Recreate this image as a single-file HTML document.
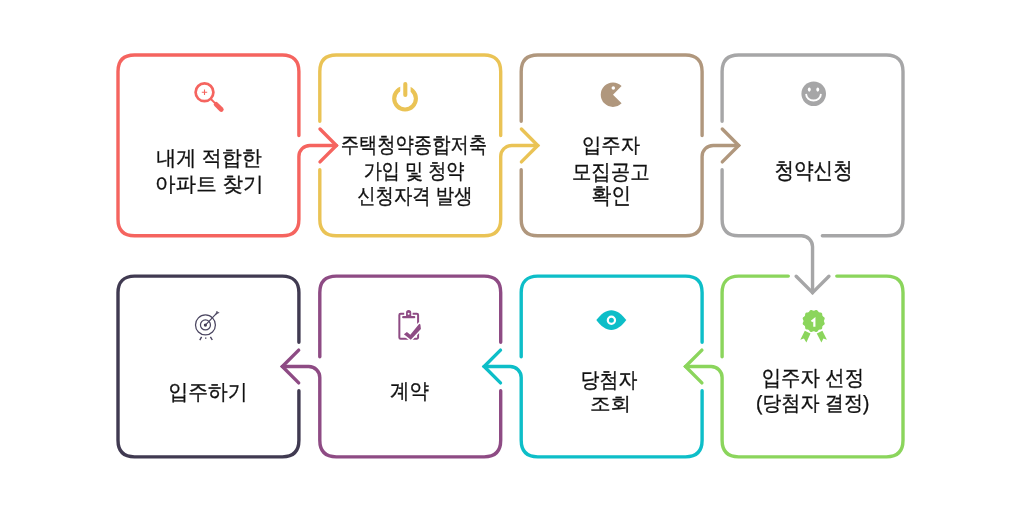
<!DOCTYPE html>
<html><head><meta charset="utf-8"><style>
html,body{margin:0;padding:0;background:#fff;width:1024px;height:512px;overflow:hidden}
svg{position:absolute;left:0;top:0;will-change:transform}
text{font-family:"Liberation Sans",sans-serif;font-size:22px;fill:#111;stroke:#111;stroke-width:0.35px;text-rendering:geometricPrecision}
</style></head><body>
<svg width="1024" height="512" viewBox="0 0 1024 512">
<g fill="none" stroke-width="3.4" stroke-linecap="round" stroke-linejoin="round">
<path d="M298.9,135.62 V71.55 C298.9,60.82 293.12,55.05 282.4,55.05 H134.5 C123.78,55.05 118,60.82 118,71.55 V219.3 C118,230.03 123.78,235.8 134.5,235.8 H282.4 C293.12,235.8 298.9,230.03 298.9,219.3 V156.43 C298.9,150.35 303.82,145.43 309.9,145.43 H336.4" stroke="#F5645F"/>
<path d="M320,129.03 L336.4,145.43 L320,161.83" stroke="#F5645F" stroke-linejoin="miter"/>
<path d="M500.7,135.62 V71.55 C500.7,60.82 494.93,55.05 484.2,55.05 H336.3 C325.57,55.05 319.8,60.82 319.8,71.55 V121.18 M319.8,169.68 V219.3 C319.8,230.03 325.57,235.8 336.3,235.8 H484.2 C494.93,235.8 500.7,230.03 500.7,219.3 V156.43 C500.7,150.35 505.62,145.43 511.7,145.43 H537.8" stroke="#EAC355"/>
<path d="M521.4,129.03 L537.8,145.43 L521.4,161.83" stroke="#EAC355" stroke-linejoin="miter"/>
<path d="M702.1,135.62 V71.55 C702.1,60.82 696.33,55.05 685.6,55.05 H537.7 C526.98,55.05 521.2,60.82 521.2,71.55 V121.18 M521.2,169.68 V219.3 C521.2,230.03 526.98,235.8 537.7,235.8 H685.6 C696.33,235.8 702.1,230.03 702.1,219.3 V156.43 C702.1,150.35 707.02,145.43 713.1,145.43 H738.7" stroke="#B0977D"/>
<path d="M722.3,129.03 L738.7,145.43 L722.3,161.83" stroke="#B0977D" stroke-linejoin="miter"/>
<path d="M822.35,235.8 H886.5 C897.23,235.8 903,230.03 903,219.3 V71.55 C903,60.82 897.23,55.05 886.5,55.05 H738.6 C727.88,55.05 722.1,60.82 722.1,71.55 V121.18 M722.1,169.68 V219.3 C722.1,230.03 727.88,235.8 738.6,235.8 H801.55 C807.63,235.8 812.55,240.72 812.55,246.8 V292.7" stroke="#A6A6A7"/>
<path d="M796.15,276.3 L812.55,292.7 L828.95,276.3" stroke="#A6A6A7" stroke-linejoin="miter"/>
<path d="M722.1,356.68 V292.6 C722.1,281.88 727.88,276.1 738.6,276.1 H788.3 M836.8,276.1 H886.5 C897.23,276.1 903,281.88 903,292.6 V440.35 C903,451.08 897.23,456.85 886.5,456.85 H738.6 C727.88,456.85 722.1,451.08 722.1,440.35 V377.48 C722.1,371.4 717.18,366.48 711.1,366.48 H685.5" stroke="#8BD55C"/>
<path d="M701.9,350.08 L685.5,366.48 L701.9,382.88" stroke="#8BD55C" stroke-linejoin="miter"/>
<path d="M521.2,356.68 V292.6 C521.2,281.88 526.98,276.1 537.7,276.1 H685.6 C696.33,276.1 702.1,281.88 702.1,292.6 V342.23 M702.1,390.73 V440.35 C702.1,451.08 696.33,456.85 685.6,456.85 H537.7 C526.98,456.85 521.2,451.08 521.2,440.35 V377.48 C521.2,371.4 516.28,366.48 510.2,366.48 H484.1" stroke="#0DBEC8"/>
<path d="M500.5,350.08 L484.1,366.48 L500.5,382.88" stroke="#0DBEC8" stroke-linejoin="miter"/>
<path d="M319.8,356.68 V292.6 C319.8,281.88 325.57,276.1 336.3,276.1 H484.2 C494.93,276.1 500.7,281.88 500.7,292.6 V342.23 M500.7,390.73 V440.35 C500.7,451.08 494.93,456.85 484.2,456.85 H336.3 C325.57,456.85 319.8,451.08 319.8,440.35 V377.48 C319.8,371.4 314.88,366.48 308.8,366.48 H282.3" stroke="#8E4B84"/>
<path d="M298.7,350.08 L282.3,366.48 L298.7,382.88" stroke="#8E4B84" stroke-linejoin="miter"/>
<path d="M298.9,390.73 V440.35 C298.9,451.08 293.12,456.85 282.4,456.85 H134.5 C123.78,456.85 118,451.08 118,440.35 V292.6 C118,281.88 123.78,276.1 134.5,276.1 H282.4 C293.12,276.1 298.9,281.88 298.9,292.6 V342.23" stroke="#403A51"/>
</g>

<g fill="none" stroke="#F5645F">
 <circle cx="204.5" cy="92.3" r="8.9" stroke-width="2.7"/>
 <path d="M201.8 92.3H207.2M204.5 89.6V95" stroke-width="1.1"/>
 <path d="M210.6 98.7L215 103.1" stroke-width="2"/>
 <path d="M216.1 104.3L221.3 109.5" stroke-width="4.7" stroke-linecap="round"/>
</g>
<g fill="none" stroke="#EAC355" stroke-width="4.1">
 <circle cx="405.05" cy="98.6" r="10.85"/>
 <rect x="400.25" y="83" width="10.35" height="10" fill="#fff" stroke="none"/>
 <path d="M405.3 84V95" stroke-linecap="round"/>
</g>
<g>
 <path d="M613 94.7 L621.6 86.1 A12.2 12.2 0 1 0 621.6 103.3 Z" fill="#B0977D"/>
 <circle cx="613.3" cy="88" r="1.75" fill="#fff"/>
</g>
<g>
 <circle cx="813.7" cy="93.8" r="12.3" fill="#A6A6A7"/>
 <ellipse cx="809.3" cy="89.6" rx="1.45" ry="2.05" fill="#fff"/>
 <ellipse cx="817.75" cy="89.6" rx="1.45" ry="2.05" fill="#fff"/>
 <path d="M806.2 94.6 A7.3 5.9 0 0 0 820.8 94.6" fill="none" stroke="#fff" stroke-width="1.9" stroke-linecap="round"/>
</g>
<g fill="none" stroke="#4A4560" stroke-width="1.25">
 <circle cx="205.45" cy="324.9" r="9.95"/>
 <circle cx="205.45" cy="324.9" r="5"/>
 <circle cx="205.4" cy="325.1" r="1.6" fill="#403A51" stroke="none"/>
 <path d="M205.4 325.1 L216.3 313.6" stroke-width="1.2"/>
 <path d="M215.7 314.5 L216.9 311.1 L217.7 312.4 L219.2 312.6 Z" fill="#403A51" stroke-width="0.5" stroke-linejoin="round"/>
 <path d="M201.6 336.8 L199.8 340.1M210.4 336.9 L212.3 340M205.7 337.4V338.8" stroke-width="1.4"/>
</g>
<g>
 <path d="M404.2 313.85 H400.6 Q399.35 313.85 399.35 315.1 V337.45 Q399.35 338.7 400.6 338.7 H417 Q418.1 338.7 418.1 337.6 V315.1 Q418.1 313.85 416.85 313.85 H412.6" fill="none" stroke="#8E4B84" stroke-width="2"/>
 <path d="M403.2 316.1 H406.05 V312.7 A2.6 2.6 0 0 1 411.25 312.7 V316.1 H414.2 A1.1 1.1 0 0 1 414.2 318.3 H403.2 A1.1 1.1 0 0 1 403.2 316.1 Z" fill="#8E4B84"/>
 <circle cx="408.6" cy="313.7" r="1" fill="#fff"/>
 <path d="M403.9 334.3 L406.9 331.9 L410.3 334.7 L419.3 323.8 L420.4 324.4 L420.9 329 L410.8 339.7 Z" fill="#fff" stroke="#fff" stroke-width="3" stroke-linejoin="round"/>
 <path d="M403.9 334.3 L406.9 331.9 L410.3 334.7 L419.3 323.8 L420.4 324.4 L420.9 329 L410.8 339.7 Z" fill="#8E4B84"/>
</g>
<g>
 <path d="M596.3 320.1 C601 313.8 606 310.2 611.3 310.2 C616.6 310.2 621.6 313.8 626.3 320.1 C621.6 326.4 616.6 330 611.3 330 C606 330 601 326.4 596.3 320.1Z" fill="#0DBEC8"/>
 <circle cx="611.4" cy="320.3" r="3.6" fill="none" stroke="#fff" stroke-width="2.2"/>
</g>
<g fill="#8BD55C">
 <path d="M804.8 330.7 L810.5 333.6 L806.4 342.6 L803.9 338.6 L800.3 339.7 Z" stroke="#fff" stroke-width="0"/>
 <path d="M822.4 330.7 L816.75 333.6 L821.4 342.6 L823.4 338.6 L826.9 339.7 Z"/>
 <path d="M823.9,321 L823.92,321.27 L823.99,321.54 L824.09,321.82 L824.22,322.11 L824.36,322.4 L824.49,322.71 L824.59,323.02 L824.65,323.33 L824.66,323.63 L824.61,323.92 L824.51,324.2 L824.35,324.46 L824.14,324.7 L823.89,324.91 L823.63,325.11 L823.37,325.3 L823.11,325.49 L822.88,325.68 L822.69,325.88 L822.53,326.1 L822.42,326.34 L822.34,326.61 L822.29,326.91 L822.26,327.22 L822.23,327.54 L822.19,327.87 L822.12,328.19 L822.02,328.49 L821.88,328.76 L821.69,328.99 L821.46,329.18 L821.19,329.32 L820.89,329.42 L820.57,329.49 L820.24,329.53 L819.92,329.56 L819.61,329.59 L819.31,329.64 L819.04,329.72 L818.8,329.83 L818.58,329.99 L818.38,330.18 L818.19,330.41 L818,330.67 L817.81,330.93 L817.61,331.19 L817.4,331.44 L817.16,331.65 L816.9,331.81 L816.62,331.91 L816.33,331.96 L816.03,331.95 L815.72,331.89 L815.41,331.79 L815.1,331.66 L814.81,331.52 L814.52,331.39 L814.24,331.29 L813.97,331.22 L813.7,331.2 L813.43,331.22 L813.16,331.29 L812.88,331.39 L812.59,331.52 L812.3,331.66 L811.99,331.79 L811.68,331.89 L811.37,331.95 L811.07,331.96 L810.78,331.91 L810.5,331.81 L810.24,331.65 L810,331.44 L809.79,331.19 L809.59,330.93 L809.4,330.67 L809.21,330.41 L809.02,330.18 L808.82,329.99 L808.6,329.83 L808.36,329.72 L808.09,329.64 L807.79,329.59 L807.48,329.56 L807.16,329.53 L806.83,329.49 L806.51,329.42 L806.21,329.32 L805.94,329.18 L805.71,328.99 L805.52,328.76 L805.38,328.49 L805.28,328.19 L805.21,327.87 L805.17,327.54 L805.14,327.22 L805.11,326.91 L805.06,326.61 L804.98,326.34 L804.87,326.1 L804.71,325.88 L804.52,325.68 L804.29,325.49 L804.03,325.3 L803.77,325.11 L803.51,324.91 L803.26,324.7 L803.05,324.46 L802.89,324.2 L802.79,323.92 L802.74,323.63 L802.75,323.33 L802.81,323.02 L802.91,322.71 L803.04,322.4 L803.18,322.11 L803.31,321.82 L803.41,321.54 L803.48,321.27 L803.5,321 L803.48,320.73 L803.41,320.46 L803.31,320.18 L803.18,319.89 L803.04,319.6 L802.91,319.29 L802.81,318.98 L802.75,318.67 L802.74,318.37 L802.79,318.08 L802.89,317.8 L803.05,317.54 L803.26,317.3 L803.51,317.09 L803.77,316.89 L804.03,316.7 L804.29,316.51 L804.52,316.32 L804.71,316.12 L804.87,315.9 L804.98,315.66 L805.06,315.39 L805.11,315.09 L805.14,314.78 L805.17,314.46 L805.21,314.13 L805.28,313.81 L805.38,313.51 L805.52,313.24 L805.71,313.01 L805.94,312.82 L806.21,312.68 L806.51,312.58 L806.83,312.51 L807.16,312.47 L807.48,312.44 L807.79,312.41 L808.09,312.36 L808.36,312.28 L808.6,312.17 L808.82,312.01 L809.02,311.82 L809.21,311.59 L809.4,311.33 L809.59,311.07 L809.79,310.81 L810,310.56 L810.24,310.35 L810.5,310.19 L810.78,310.09 L811.07,310.04 L811.37,310.05 L811.68,310.11 L811.99,310.21 L812.3,310.34 L812.59,310.48 L812.88,310.61 L813.16,310.71 L813.43,310.78 L813.7,310.8 L813.97,310.78 L814.24,310.71 L814.52,310.61 L814.81,310.48 L815.1,310.34 L815.41,310.21 L815.72,310.11 L816.03,310.05 L816.33,310.04 L816.62,310.09 L816.9,310.19 L817.16,310.35 L817.4,310.56 L817.61,310.81 L817.81,311.07 L818,311.33 L818.19,311.59 L818.38,311.82 L818.58,312.01 L818.8,312.17 L819.04,312.28 L819.31,312.36 L819.61,312.41 L819.92,312.44 L820.24,312.47 L820.57,312.51 L820.89,312.58 L821.19,312.68 L821.46,312.82 L821.69,313.01 L821.88,313.24 L822.02,313.51 L822.12,313.81 L822.19,314.13 L822.23,314.46 L822.26,314.78 L822.29,315.09 L822.34,315.39 L822.42,315.66 L822.53,315.9 L822.69,316.12 L822.88,316.32 L823.11,316.51 L823.37,316.7 L823.63,316.89 L823.89,317.09 L824.14,317.3 L824.35,317.54 L824.51,317.8 L824.61,318.08 L824.66,318.37 L824.65,318.67 L824.59,318.98 L824.49,319.29 L824.36,319.6 L824.22,319.89 L824.09,320.18 L823.99,320.46 L823.92,320.73Z" stroke="#fff" stroke-width="1.2"/>
 <path d="M823.9,321 L823.92,321.27 L823.99,321.54 L824.09,321.82 L824.22,322.11 L824.36,322.4 L824.49,322.71 L824.59,323.02 L824.65,323.33 L824.66,323.63 L824.61,323.92 L824.51,324.2 L824.35,324.46 L824.14,324.7 L823.89,324.91 L823.63,325.11 L823.37,325.3 L823.11,325.49 L822.88,325.68 L822.69,325.88 L822.53,326.1 L822.42,326.34 L822.34,326.61 L822.29,326.91 L822.26,327.22 L822.23,327.54 L822.19,327.87 L822.12,328.19 L822.02,328.49 L821.88,328.76 L821.69,328.99 L821.46,329.18 L821.19,329.32 L820.89,329.42 L820.57,329.49 L820.24,329.53 L819.92,329.56 L819.61,329.59 L819.31,329.64 L819.04,329.72 L818.8,329.83 L818.58,329.99 L818.38,330.18 L818.19,330.41 L818,330.67 L817.81,330.93 L817.61,331.19 L817.4,331.44 L817.16,331.65 L816.9,331.81 L816.62,331.91 L816.33,331.96 L816.03,331.95 L815.72,331.89 L815.41,331.79 L815.1,331.66 L814.81,331.52 L814.52,331.39 L814.24,331.29 L813.97,331.22 L813.7,331.2 L813.43,331.22 L813.16,331.29 L812.88,331.39 L812.59,331.52 L812.3,331.66 L811.99,331.79 L811.68,331.89 L811.37,331.95 L811.07,331.96 L810.78,331.91 L810.5,331.81 L810.24,331.65 L810,331.44 L809.79,331.19 L809.59,330.93 L809.4,330.67 L809.21,330.41 L809.02,330.18 L808.82,329.99 L808.6,329.83 L808.36,329.72 L808.09,329.64 L807.79,329.59 L807.48,329.56 L807.16,329.53 L806.83,329.49 L806.51,329.42 L806.21,329.32 L805.94,329.18 L805.71,328.99 L805.52,328.76 L805.38,328.49 L805.28,328.19 L805.21,327.87 L805.17,327.54 L805.14,327.22 L805.11,326.91 L805.06,326.61 L804.98,326.34 L804.87,326.1 L804.71,325.88 L804.52,325.68 L804.29,325.49 L804.03,325.3 L803.77,325.11 L803.51,324.91 L803.26,324.7 L803.05,324.46 L802.89,324.2 L802.79,323.92 L802.74,323.63 L802.75,323.33 L802.81,323.02 L802.91,322.71 L803.04,322.4 L803.18,322.11 L803.31,321.82 L803.41,321.54 L803.48,321.27 L803.5,321 L803.48,320.73 L803.41,320.46 L803.31,320.18 L803.18,319.89 L803.04,319.6 L802.91,319.29 L802.81,318.98 L802.75,318.67 L802.74,318.37 L802.79,318.08 L802.89,317.8 L803.05,317.54 L803.26,317.3 L803.51,317.09 L803.77,316.89 L804.03,316.7 L804.29,316.51 L804.52,316.32 L804.71,316.12 L804.87,315.9 L804.98,315.66 L805.06,315.39 L805.11,315.09 L805.14,314.78 L805.17,314.46 L805.21,314.13 L805.28,313.81 L805.38,313.51 L805.52,313.24 L805.71,313.01 L805.94,312.82 L806.21,312.68 L806.51,312.58 L806.83,312.51 L807.16,312.47 L807.48,312.44 L807.79,312.41 L808.09,312.36 L808.36,312.28 L808.6,312.17 L808.82,312.01 L809.02,311.82 L809.21,311.59 L809.4,311.33 L809.59,311.07 L809.79,310.81 L810,310.56 L810.24,310.35 L810.5,310.19 L810.78,310.09 L811.07,310.04 L811.37,310.05 L811.68,310.11 L811.99,310.21 L812.3,310.34 L812.59,310.48 L812.88,310.61 L813.16,310.71 L813.43,310.78 L813.7,310.8 L813.97,310.78 L814.24,310.71 L814.52,310.61 L814.81,310.48 L815.1,310.34 L815.41,310.21 L815.72,310.11 L816.03,310.05 L816.33,310.04 L816.62,310.09 L816.9,310.19 L817.16,310.35 L817.4,310.56 L817.61,310.81 L817.81,311.07 L818,311.33 L818.19,311.59 L818.38,311.82 L818.58,312.01 L818.8,312.17 L819.04,312.28 L819.31,312.36 L819.61,312.41 L819.92,312.44 L820.24,312.47 L820.57,312.51 L820.89,312.58 L821.19,312.68 L821.46,312.82 L821.69,313.01 L821.88,313.24 L822.02,313.51 L822.12,313.81 L822.19,314.13 L822.23,314.46 L822.26,314.78 L822.29,315.09 L822.34,315.39 L822.42,315.66 L822.53,315.9 L822.69,316.12 L822.88,316.32 L823.11,316.51 L823.37,316.7 L823.63,316.89 L823.89,317.09 L824.14,317.3 L824.35,317.54 L824.51,317.8 L824.61,318.08 L824.66,318.37 L824.65,318.67 L824.59,318.98 L824.49,319.29 L824.36,319.6 L824.22,319.89 L824.09,320.18 L823.99,320.46 L823.92,320.73Z"/>
 <path d="M814.35 326.8 V319.2 L811.5 321.5" fill="none" stroke="#fff" stroke-width="2.2" stroke-linejoin="miter"/>
</g>

<text transform="matrix(0.9098 0 0 0.9540 156.20 164.90)">내게 적합한</text>
<text transform="matrix(0.9360 0 0 0.9307 155.03 190.54)">아파트 찾기</text>
<text transform="matrix(0.8313 0 0 0.9803 340.69 151.78)">주택청약종합저축</text>
<text transform="matrix(0.8242 0 0 0.9614 363.74 177.59)">가입 및 청약</text>
<text transform="matrix(0.8350 0 0 0.9680 357.21 203.48)">신청자격 발생</text>
<text transform="matrix(0.8808 0 0 0.9291 581.91 151.90)">입주자</text>
<text transform="matrix(0.8838 0 0 0.9654 571.91 178.51)">모집공고</text>
<text transform="matrix(0.9025 0 0 1.0167 591.46 203.33)">확인</text>
<text transform="matrix(0.8888 0 0 1.0195 774.49 177.96)">청약신청</text>
<text transform="matrix(0.8817 0 0 0.9766 761.66 384.79)">입주자 선정</text>
<text transform="matrix(0.8677 0 0 0.9365 755.91 409.93)">(당첨자 결정)</text>
<text transform="matrix(0.8593 0 0 0.9642 580.61 387.33)">당첨자</text>
<text transform="matrix(0.9377 0 0 0.8500 589.90 410.42)">조회</text>
<text transform="matrix(0.8840 0 0 0.9519 389.97 398.26)">계약</text>
<text transform="matrix(0.8985 0 0 0.9673 168.38 398.52)">입주하기</text>
</svg>
</body></html>
